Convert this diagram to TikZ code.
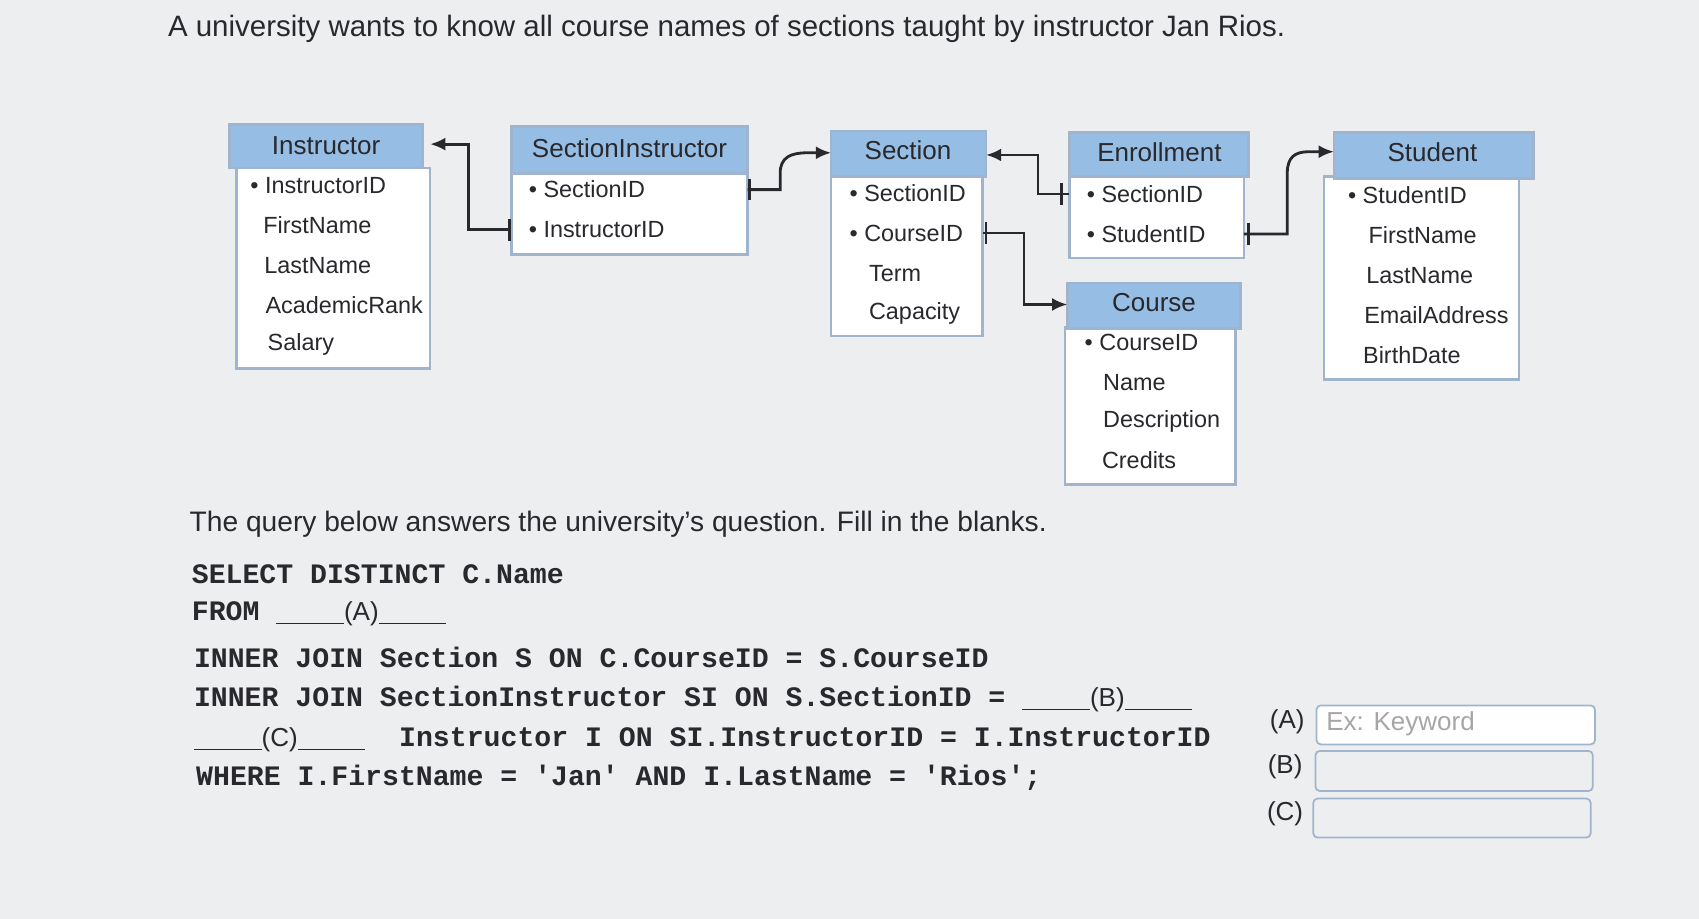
\documentclass[tikz,border=0pt]{standalone}
\usepackage{fontspec}
\setmainfont{Liberation Sans}
\setmonofont{Liberation Mono}
\usetikzlibrary{arrows.meta}
\definecolor{hdr}{RGB}{150,190,228}
\definecolor{brd}{RGB}{160,180,205}
\definecolor{bg}{RGB}{236,238,240}
\definecolor{txt}{RGB}{40,40,45}
\tikzset{
  tbl/.style={draw=brd,line width=1.2pt,fill=white},
  hd/.style={draw=brd,line width=1.2pt,fill=hdr},
  ht/.style={font=\fontsize{12}{14}\selectfont,text=txt},
  rt/.style={font=\fontsize{10.8}{13}\selectfont,text=txt,anchor=west},
  conn/.style={line width=1.3pt,draw=txt,-{Latex[length=7pt,width=6pt]}},
  sq/.style={font=\ttfamily\bfseries\fontsize{13}{15}\selectfont,text=txt,anchor=west},
  ans/.style={draw=brd,line width=0.8pt,rounded corners=2pt},
}
\newcommand{\blnk}[1]{\underline{\phantom{xxxx}}\textmd{\rmfamily\fontsize{12}{14}\selectfont(#1)}\underline{\phantom{xxxx}}}
\begin{document}
\begin{tikzpicture}[x=0.5pt,y=-0.5pt]
\useasboundingbox (0,0) rectangle (1568,848);
\fill[bg] (0,0) rectangle (1568,848);
\node[anchor=west,font=\fontsize{13.6}{16}\selectfont,text=txt] (title) at (148,27) {A university wants to know all course names of sections taught by instructor Jan Rios.};
% Instructor
\draw[tbl] (218,155) rectangle (397,340);
\draw[hd] (212,115) rectangle (390,155);
\node[ht] (inst) at (301,134) {Instructor};
\node[rt] (i1) at (224,171) {• InstructorID};
\node[rt] (i2) at (236,208) {FirstName};
\node[rt] (i3) at (237,245) {LastName};
\node[rt] (i4) at (238,282) {AcademicRank};
\node[rt] (i5) at (240,318) {Salary};
% SectionInstructor
\draw[tbl] (472,158) rectangle (690,235);
\draw[hd] (472,117) rectangle (690,160);
\node[ht] (si) at (581,137) {SectionInstructor};
\node[rt] (si1) at (481,175) {• SectionID};
\node[rt] (si2) at (481,212) {• InstructorID};
% Section
\draw[tbl] (767,163) rectangle (907,310);
\draw[hd] (767,121) rectangle (910,163);
\node[ht] (sec) at (838,139) {Section};
\node[rt] (s1) at (777,178) {• SectionID};
\node[rt] (s2) at (777,215) {• CourseID};
\node[rt] (s3) at (795,252) {Term};
\node[rt] (s4) at (795,289) {Capacity};
% Enrollment
\draw[tbl] (987,163) rectangle (1148,238);
\draw[hd] (987,122) rectangle (1152,163);
\node[ht] (enr) at (1070,140) {Enrollment};
\node[rt] (e1) at (996,179) {• SectionID};
\node[rt] (e2) at (996,216) {• StudentID};
% Course
\draw[tbl] (983,302) rectangle (1140,447);
\draw[hd] (985,261) rectangle (1145,303);
\node[ht] (crs) at (1065,279) {Course};
\node[rt] (c1) at (994,316) {• CourseID};
\node[rt] (c2) at (1011,353) {Name};
\node[rt] (c3) at (1011,389) {Description};
\node[rt] (c4) at (1010,425) {Credits};
% Student
\draw[tbl] (1222,163) rectangle (1402,350);
\draw[hd] (1231,122) rectangle (1415,165);
\node[ht] (stu) at (1322,140) {Student};
\node[rt] (t1) at (1237,180) {• StudentID};
\node[rt] (t2) at (1256,217) {FirstName};
\node[rt] (t3) at (1254,254) {LastName};
\node[rt] (t4) at (1252,291) {EmailAddress};
\node[rt] (t5) at (1251,328) {BirthDate};
% connectors
\coordinate (a1) at (472,212); \coordinate (a2) at (397,133);
\draw[conn] (a1) -- (432,212) -- (432,133) -- (a2);
\draw[line width=1.3pt,draw=txt] (470,202) -- (470,222);
\coordinate (b1) at (690,175); \coordinate (b2) at (767,141);
\draw[conn] (b1) -- (720,175) -- (720,160) .. controls (720,145) and (730,141) .. (745,141) -- (b2);
\draw[line width=1.3pt,draw=txt] (692,165) -- (692,185);
\coordinate (d1) at (987,179); \coordinate (d2) at (910,143);
\draw[conn] (d1) -- (958,179) -- (958,143) -- (d2);
\draw[line width=1.3pt,draw=txt] (980,169) -- (980,189);
\coordinate (f1) at (907,215); \coordinate (f2) at (985,281);
\draw[conn] (f1) -- (945,215) -- (945,281) -- (f2);
\draw[line width=1.3pt,draw=txt] (910,205) -- (910,225);
\coordinate (g1) at (1148,216); \coordinate (g2) at (1231,140);
\draw[conn] (g1) -- (1188,216) -- (1188,160) .. controls (1188,145) and (1195,140) .. (1208,140) -- (g2);
\draw[line width=1.3pt,draw=txt] (1152,206) -- (1152,226);
% query text
\node[anchor=west,font=\fontsize{13}{15}\selectfont,text=txt] (q) at (168,484) {The query below answers the university's question. Fill in the blanks.};
\node[sq] (l1) at (170,530) {SELECT DISTINCT C.Name};
\node[sq] (l2) at (170,566) {FROM \blnk{A}};
\node[sq] (l3) at (172,607) {INNER JOIN Section S ON C.CourseID = S.CourseID};
\node[sq] (l4) at (172,645) {INNER JOIN SectionInstructor SI ON S.SectionID = \blnk{B}};
\node[sq] (l5) at (172,683) {\blnk{C}\ \ Instructor I ON SI.InstructorID = I.InstructorID};
\node[sq] (l6) at (174,718) {WHERE I.FirstName = 'Jan' AND I.LastName = 'Rios';};
% answers
\node[font=\fontsize{12}{14}\selectfont,text=txt] (la) at (1188,666) {(A)};
\node[font=\fontsize{12}{14}\selectfont,text=txt] (lb) at (1186,708) {(B)};
\node[font=\fontsize{12}{14}\selectfont,text=txt] (lc) at (1186,751) {(C)};
\draw[ans,fill=white] (1215,651) rectangle (1472,687);
\node[anchor=west,font=\fontsize{12}{14}\selectfont,text=gray!70] (ex) at (1217,668) {Ex: Keyword};
\draw[ans] (1214,693) rectangle (1470,730);
\draw[ans] (1212,737) rectangle (1468,773);
\end{tikzpicture}
\end{document}
